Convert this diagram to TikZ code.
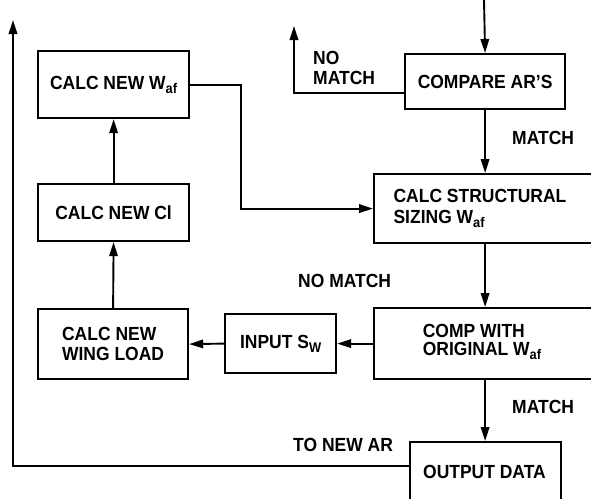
\documentclass[tikz,border=0pt]{standalone}
\usepackage{fontspec}
\setmainfont{Liberation Sans}[FakeStretch=0.92]
\usetikzlibrary{arrows.meta}
\newcommand{\lowsub}[1]{\raisebox{-4pt}{\fontsize{14}{14}\selectfont #1}}
\begin{document}
\begin{tikzpicture}[x=1pt,y=-1pt,
  font=\fontsize{19}{20}\selectfont\bfseries,
  box/.style={draw, line width=2.2pt, inner sep=0pt, anchor=north west, align=left},
  lbl/.style={inner sep=0pt, align=left},
  conn/.style={line width=1.9pt},
  arr/.style={conn, -{Triangle[length=14pt,width=8.5pt]}}]
\useasboundingbox (0,0) rectangle (591,498);
\clip (0,0) rectangle (591,498);
% boxes
\node[box, minimum width=151pt, minimum height=67pt] (waf) at (37,50) {CALC NEW W\lowsub{af}};
\node[box, minimum width=151pt, minimum height=57pt] (cl) at (37,183) {CALC NEW Cl};
\node[box, minimum width=150pt, minimum height=70pt] (wing) at (37,308) {CALC NEW\\WING LOAD};
\node[box, minimum width=111pt, minimum height=59pt] (input) at (224,313) {INPUT S\lowsub{W}};
\node[box, minimum width=160pt, minimum height=55pt] (compare) at (404,53) {COMPARE AR'S};
\node[box, minimum width=240pt, minimum height=69pt] (struct) at (373,173) {};
\node[box, minimum width=240pt, minimum height=71pt] (comp) at (373,307) {};
\node[box, minimum width=151pt, minimum height=80pt] (output) at (409,441) {};
\node[lbl, font=\fontsize{19}{21}\selectfont\bfseries] (structtxt) at (480,208) {CALC STRUCTURAL\\SIZING W\lowsub{af}};
\node[lbl, font=\fontsize{19}{18}\selectfont\bfseries] (comptxt) at (482,342) {COMP WITH\\ORIGINAL W\lowsub{af}};
\node[lbl] (outtxt) at (484.5,472) {OUTPUT DATA};
% coordinates
\coordinate (in) at (484,0);
\coordinate (nm) at (294,26);
\coordinate (bend) at (241,0);
\coordinate (back) at (13,20);
% connectors
\draw[arr] (in) -- (compare.north);
\draw[arr] (compare.south) -- (compare.south |- struct.north);
\draw[arr] ([yshift=-11.5pt]compare.west) -| (nm);
\draw[arr] (waf.east) -- (waf.east -| bend) |- (struct.west);
\draw[arr] (cl.north) -- (waf.south);
\draw[arr] (wing.north) -- (cl.south);
\draw[arr] (input.west) -- (wing.east);
\draw[arr] (comp.west) -- (input.east);
\draw[arr] (struct.south -| compare.south) -- (comp.north -| compare.south);
\draw[arr] (comp.south -| compare.south) -- (output.north -| compare.south);
\draw[arr] ([yshift=-25pt]output.north west) -| (back);
% labels
\node[lbl, anchor=west] (l1) at (313,68) {NO\\MATCH};
\node[lbl, anchor=west] (l2) at (512,138) {MATCH};
\node[lbl, anchor=west] (l3) at (298,281) {NO MATCH};
\node[lbl, anchor=west] (l4) at (512,407) {MATCH};
\node[lbl, anchor=west] (l5) at (293,445) {TO NEW AR};
\end{tikzpicture}
\end{document}
